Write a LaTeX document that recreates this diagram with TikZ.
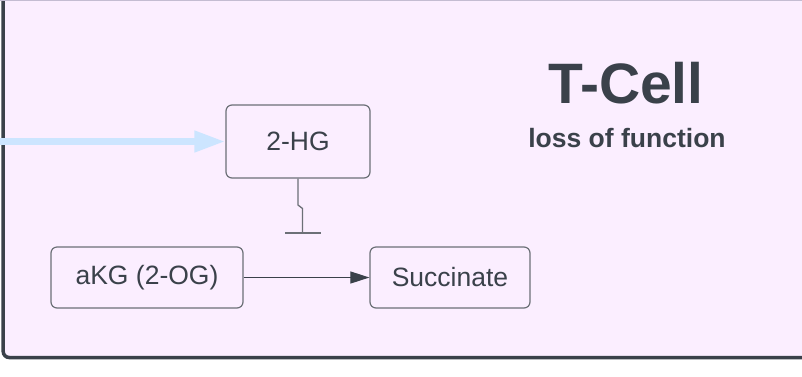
\documentclass[tikz,border=0pt]{standalone}
\usepackage{fontspec}
\setmainfont{Liberation Sans}
\usetikzlibrary{arrows.meta}
\definecolor{bgfill}{HTML}{FBEEFF}
\definecolor{ink}{HTML}{3A414A}
\definecolor{boxline}{HTML}{6C7077}
\definecolor{flowblue}{HTML}{CCE5FF}
\definecolor{topline}{HTML}{C4BCD2}
\tikzset{
  entity/.style={draw=boxline, line width=1.2pt, rounded corners=6pt, fill=bgfill,
    text=ink, font=\fontsize{26.5}{30}\selectfont, inner sep=0pt},
  conv/.style={draw=ink, line width=1.1pt, -{Triangle[length=19pt,width=12pt]}},
  inhib/.style={draw=boxline, line width=1.3pt, -{Bar[width=36pt,line width=1.3pt]}},
  feed/.style={draw=flowblue, line width=7pt, -{Triangle[length=31pt,width=20pt]}},
}
\begin{document}
\begin{tikzpicture}[x=1pt,y=-1pt]
\useasboundingbox (0,0) rectangle (802,376);
\clip (0,0) rectangle (802,376);
\fill[white] (0,0) rectangle (802,376);
% container
\draw[draw=ink, fill=bgfill, line width=3.5pt, rounded corners=6pt] (3.2,-20) rectangle (840,357.5);
\draw[topline, line width=1pt] (0,0.5) -- (802,0.5);
% title
\node[anchor=base, text=ink, font=\fontsize{57}{60}\selectfont\bfseries] (title) at (626,103) {T-Cell};
\node[anchor=base, text=ink, font=\fontsize{26.5}{30}\selectfont\bfseries] (sub) at (627,147) {loss of function};
% entities
\node[entity, minimum width=144pt, minimum height=73pt] (hg) at (298,141.5) {2-HG};
\node[entity, minimum width=192pt, minimum height=61pt] (akg) at (147,277.5) {aKG (2-OG)};
\node[entity, minimum width=160pt, minimum height=61pt] (succ) at (450,277.5) {Succinate};
% connectors
\coordinate (src) at (0,141.5);
\draw[feed] (src) -- (hg.west);
\draw[conv] (akg.east) -- (succ.west);
\coordinate (tee) at (302.5,233.5);
\draw[inhib] (hg.south) -- (298,205) -- (302.5,208.5) -- (tee);
\end{tikzpicture}
\end{document}
